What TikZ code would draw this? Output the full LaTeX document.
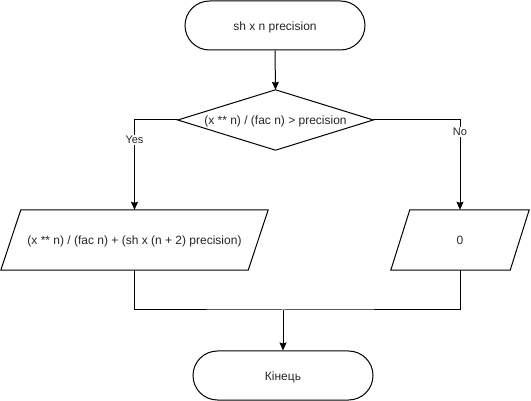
\documentclass[tikz,border=0pt]{standalone}
\usepackage{fontspec}
\setmainfont{Liberation Sans}
\usetikzlibrary{arrows.meta,calc}
\begin{document}
\begin{tikzpicture}[x=1pt,y=-1pt,
  every node/.style={font=\fontsize{12}{14}\selectfont, text=black!85},
  lbl/.style={font=\fontsize{11}{12}\selectfont, fill=white, inner sep=1pt},
  box/.style={inner sep=0pt, text height=10pt, text depth=0pt},
  term/.style={draw, line width=1pt, rounded corners=24.5pt, inner sep=0pt, text height=10pt, text depth=0pt},
  line/.style={line width=1pt, draw=black},
  arr/.style={line, -{Stealth[length=8pt,width=7pt,inset=1pt]}}]
\useasboundingbox (0,0) rectangle (531,401);
\node[term, minimum width=180, minimum height=49] (start) at (275,25.5) {sh x n precision};
\node[box, minimum width=195, minimum height=60] (d) at (275.5,120) {(x ** n) / (fac n) > precision};
\draw[line] (d.north) -- (d.east) -- (d.south) -- (d.west) -- cycle;
\node[box, minimum width=267, minimum height=60] (p1) at (134.5,240) {(x ** n) / (fac n) + (sh x (n + 2) precision)};
\draw[line] ($(p1.north west)+(20,0)$) -- (p1.north east) -- ($(p1.south east)+(-20,0)$) -- (p1.south west) -- cycle;
\node[box, minimum width=138, minimum height=60] (p2) at (460,240) {0};
\draw[line] ($(p2.north west)+(19,0)$) -- (p2.north east) -- ($(p2.south east)+(-19,0)$) -- (p2.south west) -- cycle;
\node[term, minimum width=180, minimum height=49] (end) at (283,375.5) {Кінець};
\coordinate (m) at (283,310);
\draw[arr] (start.south) -- (d.north);
\draw[arr] (d.west) -| (p1.north) node[lbl, pos=0.612] {Yes};
\draw[arr] (d.east) -| (p2.north) node[lbl, pos=0.565] {No};
\draw[line] (p1.south) |- (m) -| (p2.south);
\draw[arr] (m) -- (end.north);
\end{tikzpicture}
\end{document}
